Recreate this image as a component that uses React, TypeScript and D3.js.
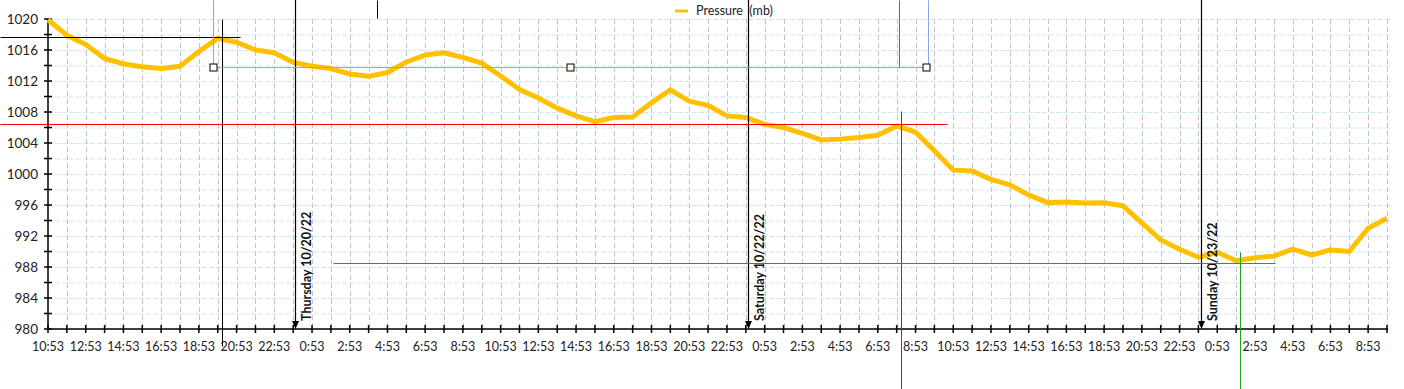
import React, { useEffect, useRef } from 'react';
import * as d3 from 'd3';

// hourly readings, one per category
const times = [
  '10:53', '11:53', '12:53', '13:53', '14:53', '15:53', '16:53', '17:53', '18:53', '19:53', '20:53', '21:53', '22:53', '23:53',
  '0:53', '1:53', '2:53', '3:53', '4:53', '5:53', '6:53', '7:53', '8:53', '9:53', '10:53', '11:53', '12:53', '13:53',
  '14:53', '15:53', '16:53', '17:53', '18:53', '19:53', '20:53', '21:53', '22:53', '23:53',
  '0:53', '1:53', '2:53', '3:53', '4:53', '5:53', '6:53', '7:53', '8:53', '9:53', '10:53', '11:53', '12:53', '13:53',
  '14:53', '15:53', '16:53', '17:53', '18:53', '19:53', '20:53', '21:53', '22:53', '23:53',
  '0:53', '1:53', '2:53', '3:53', '4:53', '5:53', '6:53', '7:53', '8:53', '9:53',
];

const pressure = [
  1019.9, 1017.9, 1016.7, 1014.9, 1014.2, 1013.85, 1013.6, 1013.9, 1015.8, 1017.5, 1017.0, 1016.0, 1015.65, 1014.4,
  1013.9, 1013.6, 1012.9, 1012.6, 1013.1, 1014.45, 1015.35, 1015.65, 1015.05, 1014.3, 1012.65, 1010.9, 1009.8, 1008.5,
  1007.5, 1006.75, 1007.3, 1007.35, 1009.2, 1010.85, 1009.4, 1008.85, 1007.5, 1007.3,
  1006.4, 1006.0, 1005.25, 1004.4, 1004.5, 1004.7, 1005.0, 1006.2, 1005.4, 1003.0, 1000.5, 1000.4, 999.3, 998.6,
  997.3, 996.3, 996.4, 996.25, 996.3, 995.9, 993.7, 991.5, 990.3, 989.25,
  989.9, 988.8, 989.2, 989.4, 990.3, 989.55, 990.2, 990.0, 993.0, 994.3,
];

const yLabelTicks = [980, 984, 988, 992, 996, 1000, 1004, 1008, 1012, 1016, 1020];
const yMinorTicks = d3.range(980, 1021, 2);

// day boundaries: category index of 23:53 plus 7 minutes
const dayMarkers = [
  { label: 'Thursday 10/20/22', index: 13, minutes: 7 },
  { label: 'Saturday 10/22/22', index: 37, minutes: 7 },
  { label: 'Sunday 10/23/22', index: 61, minutes: 7 },
];

// drawn-over guide lines, in (category index, mb) units
const guideLines = [
  { x1: -2.55, y1: 1017.64, x2: 10.18, y2: 1017.64, color: '#000' },
  { x1: 9.21, y1: 1020, x2: 9.21, y2: 977.8, color: '#000' },
  { x1: 17.45, y1: 1022.5, x2: 17.45, y2: 1020.1, color: '#000' },
  { x1: 8.77, y1: 1022.5, x2: 8.77, y2: 1013.83, color: '#8fa2ea' },
  { x1: 8.77, y1: 1013.83, x2: 46.58, y2: 1013.83, color: '#8fa2ea' },
  { x1: 46.65, y1: 1022.5, x2: 46.65, y2: 1013.83, color: '#8fa2ea' },
  { x1: 45.15, y1: 1022.5, x2: 45.15, y2: 1013.83, color: '#1aa31a' },
  { x1: -2.55, y1: 1006.45, x2: 47.67, y2: 1006.45, color: '#ff0000' },
  { x1: 45.25, y1: 1008.13, x2: 45.25, y2: 972.2, color: '#ff0000' },
  { x1: 15.11, y1: 988.52, x2: 65.07, y2: 988.52, color: '#1aa31a' },
  { x1: 63.21, y1: 989.94, x2: 63.21, y2: 972.2, color: '#1aa31a' },
];
const handles = [8.77, 27.67, 46.58];

const PressureChart: React.FC = () => {
  const ref = useRef<SVGSVGElement>(null);

  useEffect(() => {
    if (!ref.current) return;
    const svg = d3.select(ref.current);
    svg.selectAll('*').remove();

    const width = 1404;
    const height = 389;
    const font = 'Lato, "Open Sans", sans-serif';

    const x = d3.scaleLinear().domain([0, times.length - 1]).range([48, 1387]);
    const y = d3.scaleLinear().domain([980, 1020]).range([329, 19]);

    svg.attr('width', width).attr('height', height);

    // horizontal grid every 2 mb
    svg.append('g')
      .selectAll('line')
      .data(yMinorTicks)
      .join('line')
      .attr('x1', x(0))
      .attr('x2', x(times.length - 1) + 3)
      .attr('y1', d => y(d) + 0.5)
      .attr('y2', d => y(d) + 0.5)
      .style('stroke', '#cce6f6')
      .style('stroke-width', 1)
      .style('stroke-dasharray', '5,2');

    // vertical grid every category
    svg.append('g')
      .selectAll('line')
      .data(d3.range(1, times.length))
      .join('line')
      .attr('x1', d => Math.round(x(d)) + 0.5)
      .attr('x2', d => Math.round(x(d)) + 0.5)
      .attr('y1', y(1020))
      .attr('y2', y(980))
      .style('stroke', '#c4c4c4')
      .style('stroke-width', 1)
      .style('stroke-dasharray', '5,3');

    // axes
    const axisG = svg.append('g').style('stroke', '#000').style('stroke-width', 1.5);
    axisG.append('line')
      .attr('x1', x(0)).attr('x2', x(0))
      .attr('y1', y(1020)).attr('y2', y(980));
    axisG.append('line')
      .attr('x1', x(0)).attr('x2', x(times.length - 1) + 1)
      .attr('y1', y(980)).attr('y2', y(980));
    axisG.selectAll('.yt')
      .data(yMinorTicks)
      .join('line')
      .attr('class', 'yt')
      .attr('x1', x(0) - 4).attr('x2', x(0) + 4)
      .attr('y1', d => y(d)).attr('y2', d => y(d));
    axisG.selectAll('.xt')
      .data(d3.range(0, times.length))
      .join('line')
      .attr('class', 'xt')
      .attr('x1', d => x(d)).attr('x2', d => x(d))
      .attr('y1', y(980) - 4).attr('y2', y(980) + 4);

    svg.append('g')
      .selectAll('text')
      .data(yLabelTicks)
      .join('text')
      .attr('x', 38)
      .attr('y', d => y(d))
      .attr('dy', '0.36em')
      .attr('text-anchor', 'end')
      .style('font-family', font)
      .style('font-size', '13.5px')
      .style('fill', '#222')
      .text(d => d);

    svg.append('g')
      .selectAll('text')
      .data(times.map((t, i) => ({ t, i })).filter(d => d.i % 2 === 0))
      .join('text')
      .attr('x', d => x(d.i))
      .attr('y', 351)
      .attr('text-anchor', 'middle')
      .style('font-family', font)
      .style('font-size', '12.5px')
      .style('fill', '#222')
      .text(d => d.t);

    // pressure line
    const line = d3.line<number>()
      .x((_, i) => x(i))
      .y(d => y(d));
    svg.append('path')
      .datum(pressure)
      .attr('d', line)
      .style('fill', 'none')
      .style('stroke', '#ffc000')
      .style('stroke-width', 5)
      .style('stroke-linejoin', 'round');

    // day markers
    const markers = svg.append('g');
    dayMarkers.forEach(m => {
      const mx = Math.round(x(m.index + m.minutes / 60)) + 0.5;
      markers.append('line')
        .attr('x1', mx).attr('x2', mx)
        .attr('y1', 0).attr('y2', y(980) - 6)
        .style('stroke', '#000')
        .style('stroke-width', 1.2);
      markers.append('path')
        .attr('d', `M${mx - 3.5},${y(980) - 8} L${mx + 3.5},${y(980) - 8} L${mx},${y(980)} Z`)
        .style('fill', '#000');
      markers.append('text')
        .attr('transform', `translate(${mx + 15},${y(980) - 8}) rotate(-90)`)
        .style('font-family', font)
        .style('font-size', '12.5px')
        .style('font-weight', 'bold')
        .style('fill', '#111')
        .text(m.label);
    });

    // guide lines drawn over the chart
    svg.append('g')
      .selectAll('line')
      .data(guideLines)
      .join('line')
      .attr('x1', d => Math.round(x(d.x1)) + 0.5)
      .attr('x2', d => Math.round(x(d.x2)) + 0.5)
      .attr('y1', d => Math.round(y(d.y1)) + 0.5)
      .attr('y2', d => Math.round(y(d.y2)) + 0.5)
      .style('stroke', d => d.color)
      .style('stroke-width', 1);

    svg.append('g')
      .selectAll('rect')
      .data(handles)
      .join('rect')
      .attr('x', d => Math.round(x(d)) - 3)
      .attr('y', Math.round(y(1013.83)) - 3)
      .attr('width', 7)
      .attr('height', 7)
      .style('fill', '#fff')
      .style('stroke', '#000')
      .style('stroke-width', 1);

    // legend
    const legend = svg.append('g').attr('transform', 'translate(675, 11)');
    legend.append('line')
      .attr('x1', 0).attr('x2', 13)
      .attr('y1', 0).attr('y2', 0)
      .style('stroke', '#ffc000')
      .style('stroke-width', 3);
    legend.append('text')
      .attr('x', 21)
      .attr('y', 0)
      .attr('dy', '0.35em')
      .style('font-family', font)
      .style('font-size', '12.5px')
      .style('fill', '#222')
      .style('white-space', 'pre')
      .text('Pressure  (mb)');
  }, []);

  return <svg ref={ref} style={{ position: 'absolute', left: 0, top: 0 }} />;
};

export default function App() {
  return <PressureChart />;
}
